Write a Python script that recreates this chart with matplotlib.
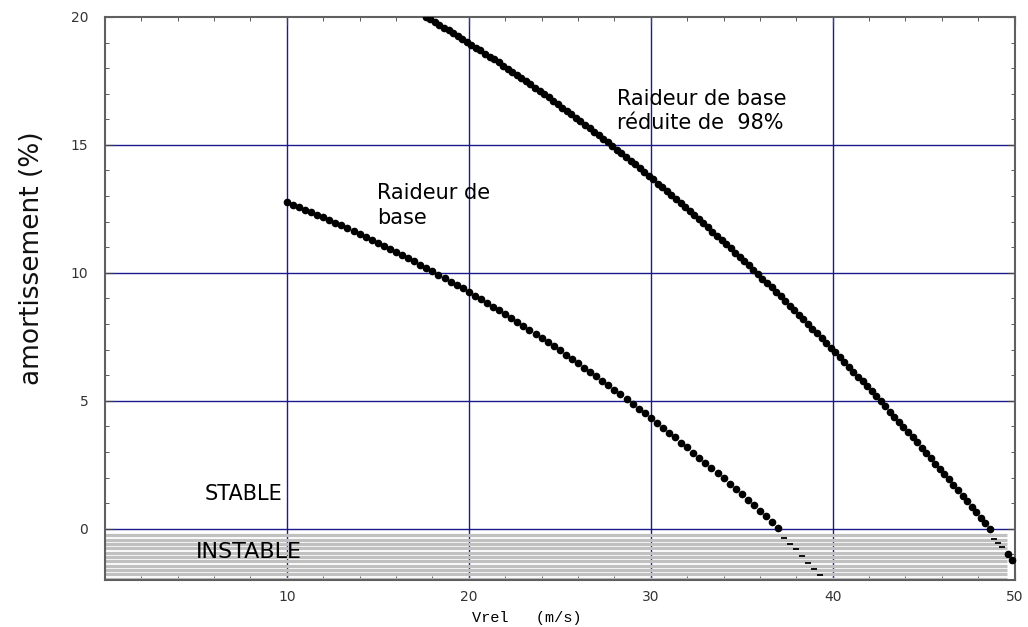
import numpy as np
import matplotlib
matplotlib.use('Agg')
import matplotlib.pyplot as plt
from matplotlib.ticker import MultipleLocator

# Raideur de base : points stables (x en m/s, amortissement en %)
x_base = [10.00, 10.33, 10.67, 11.00, 11.33, 11.67, 12.00, 12.33, 12.67, 13.00,
          13.33, 13.67, 14.00, 14.33, 14.67, 15.00, 15.33, 15.67, 16.00, 16.33,
          16.67, 17.00, 17.33, 17.67, 18.00, 18.33, 18.67, 19.00, 19.33, 19.67,
          20.00, 20.33, 20.67, 21.00, 21.33, 21.67, 22.00, 22.33, 22.67, 23.00,
          23.33, 23.67, 24.00, 24.33, 24.67, 25.00, 25.33, 25.67, 26.00, 26.33,
          26.67, 27.00, 27.33, 27.67, 28.00, 28.33, 28.67, 29.00, 29.33, 29.67,
          30.00, 30.33, 30.67, 31.00, 31.33, 31.67, 32.00, 32.33, 32.67, 33.00,
          33.33, 33.67, 34.00, 34.33, 34.67, 35.00, 35.33, 35.67, 36.00, 36.33,
          36.67, 37.00]
y_base = [12.76, 12.67, 12.57, 12.47, 12.37, 12.27, 12.17, 12.07, 11.96, 11.86,
          11.75, 11.64, 11.53, 11.41, 11.30, 11.18, 11.06, 10.94, 10.82, 10.70,
          10.58, 10.45, 10.32, 10.20, 10.07, 9.93, 9.80, 9.66, 9.53, 9.39,
          9.25, 9.11, 8.97, 8.82, 8.68, 8.53, 8.38, 8.23, 8.08, 7.92,
          7.77, 7.61, 7.45, 7.29, 7.13, 6.97, 6.80, 6.64, 6.47, 6.30,
          6.13, 5.96, 5.78, 5.61, 5.43, 5.25, 5.07, 4.89, 4.70, 4.52,
          4.33, 4.14, 3.95, 3.76, 3.57, 3.37, 3.18, 2.98, 2.78, 2.58,
          2.38, 2.17, 1.97, 1.76, 1.55, 1.34, 1.13, 0.92, 0.70, 0.49,
          0.27, 0.05]
# partie instable (tirets)
x_base_inst = [37.33, 37.67, 38.00, 38.33, 38.67, 39.00, 39.33]
y_base_inst = [-0.35, -0.58, -0.80, -1.05, -1.32, -1.58, -1.82]

# Raideur de base reduite de 98%
x_red = [17.64, 17.89, 18.14, 18.39, 18.64, 18.89, 19.14, 19.39, 19.64, 19.89,
         20.14, 20.39, 20.64, 20.89, 21.14, 21.39, 21.64, 21.89, 22.14, 22.39,
         22.64, 22.89, 23.14, 23.39, 23.64, 23.89, 24.14, 24.39, 24.64, 24.89,
         25.14, 25.39, 25.64, 25.89, 26.14, 26.39, 26.64, 26.89, 27.14, 27.39,
         27.64, 27.89, 28.14, 28.39, 28.64, 28.89, 29.14, 29.39, 29.64, 29.89,
         30.14, 30.39, 30.64, 30.89, 31.14, 31.39, 31.64, 31.89, 32.14, 32.39,
         32.64, 32.89, 33.14, 33.39, 33.64, 33.89, 34.14, 34.39, 34.64, 34.89,
         35.14, 35.39, 35.64, 35.89, 36.14, 36.39, 36.64, 36.89, 37.14, 37.39,
         37.64, 37.89, 38.14, 38.39, 38.64, 38.89, 39.14, 39.39, 39.64, 39.89,
         40.14, 40.39, 40.64, 40.89, 41.14, 41.39, 41.64, 41.89, 42.14, 42.39,
         42.64, 42.89, 43.14, 43.39, 43.64, 43.89, 44.14, 44.39, 44.64, 44.89,
         45.14, 45.39, 45.64, 45.89, 46.14, 46.39, 46.64, 46.89, 47.14, 47.39,
         47.64, 47.89, 48.14, 48.39, 48.64]
y_red = [20.00, 19.90, 19.79, 19.68, 19.58, 19.47, 19.36, 19.25, 19.14, 19.03,
         18.91, 18.80, 18.69, 18.57, 18.45, 18.34, 18.22, 18.10, 17.98, 17.86,
         17.74, 17.61, 17.49, 17.36, 17.24, 17.11, 16.98, 16.86, 16.73, 16.60,
         16.46, 16.33, 16.20, 16.07, 15.93, 15.79, 15.66, 15.52, 15.38, 15.24,
         15.10, 14.96, 14.82, 14.67, 14.53, 14.38, 14.24, 14.09, 13.94, 13.79,
         13.65, 13.49, 13.34, 13.19, 13.04, 12.88, 12.73, 12.57, 12.41, 12.26,
         12.10, 11.94, 11.78, 11.61, 11.45, 11.29, 11.12, 10.96, 10.79, 10.62,
         10.46, 10.29, 10.12, 9.95, 9.77, 9.60, 9.43, 9.25, 9.08, 8.90,
         8.72, 8.54, 8.36, 8.18, 8.00, 7.82, 7.64, 7.45, 7.27, 7.08,
         6.90, 6.71, 6.52, 6.33, 6.14, 5.95, 5.76, 5.56, 5.37, 5.17,
         4.98, 4.78, 4.58, 4.38, 4.18, 3.98, 3.78, 3.58, 3.38, 3.17,
         2.97, 2.76, 2.55, 2.35, 2.14, 1.93, 1.72, 1.50, 1.29, 1.08,
         0.86, 0.65, 0.43, 0.21, 0.00]
x_red_inst = [48.88, 49.10, 49.30]
y_red_inst = [-0.38, -0.57, -0.73]
x_red_end = [49.65, 49.83]
y_red_end = [-0.99, -1.21]

xticks = [10, 20, 30, 40, 50]
yticks = [0, 5, 10, 15, 20]

fig = plt.figure(figsize=(10.28, 6.27), dpi=100)
ax = fig.add_axes([0.102, 0.075, 0.885, 0.898])

ax.set_xlim(0, 50)
ax.set_ylim(-2, 20)

# grille bleue
for v in [10, 20, 30, 40]:
    ax.axvline(v, color='#1a1a8c', lw=1, zorder=1)
for v in [0, 5, 10, 15]:
    ax.axhline(v, color='#1a1a8c', lw=1, zorder=1)

# zone instable hachuree
ax.hlines(np.linspace(-0.25, -1.95, 11), 0, 49.6, color='#c0c0c0', lw=2.3, zorder=2)

ax.plot(x_base, y_base, 'o', color='black', ms=4.5, zorder=3)
ax.plot(x_base_inst, y_base_inst, '_', color='black', ms=5, mew=1.3, zorder=3)
ax.plot(x_red, y_red, 'o', color='black', ms=4.5, zorder=3)
ax.plot(x_red_inst, y_red_inst, '_', color='black', ms=5, mew=1.3, zorder=3)
ax.plot(x_red_end, y_red_end, 'o', color='black', ms=4.5, zorder=3, clip_on=False)

ax.text(28.13, 17.2, 'Raideur de base\nréduite de  98%', fontsize=15, va='top', linespacing=1.3)
ax.text(14.95, 13.5, 'Raideur de\nbase', fontsize=15, va='top', linespacing=1.3)
ax.text(5.5, 1.35, 'STABLE', fontsize=15, va='center')
ax.text(5.0, -0.9, 'INSTABLE', fontsize=16, va='center')

ax.set_xticks(xticks)
ax.set_yticks(yticks)
ax.xaxis.set_minor_locator(MultipleLocator(2))
ax.yaxis.set_minor_locator(MultipleLocator(1))
ax.tick_params(which='both', direction='in', top=True, right=True, colors='#404040',
               labelcolor='#333333', labelsize=10)
ax.tick_params(which='major', length=6)
ax.tick_params(which='minor', length=3)
ax.tick_params(axis='x', pad=7)
ax.tick_params(axis='y', pad=12)
for s in ax.spines.values():
    s.set_color('#606060')
    s.set_linewidth(1.5)

ax.set_xlabel('Vrel   (m/s)', family='Liberation Mono', fontsize=11)
ax.xaxis.set_label_coords(0.464, -0.055)
ax.set_ylabel('amortissement (%)', fontsize=19, color='#111111')
ax.yaxis.set_label_coords(-0.066, 0.572)

fig.savefig('out.png', dpi=100)
